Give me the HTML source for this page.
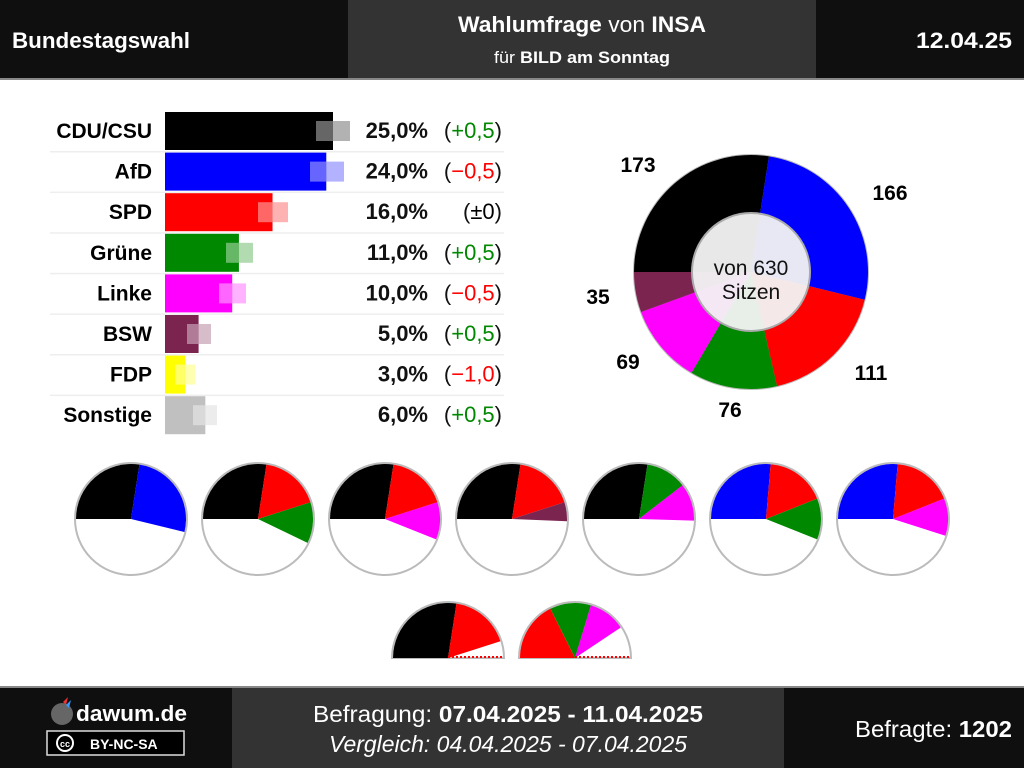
<!DOCTYPE html>
<html><head><meta charset="utf-8">
<style>
html,body{margin:0;padding:0;width:1024px;height:768px;overflow:hidden;background:#fff;font-family:"Liberation Sans",sans-serif}
svg{display:block}
</style></head>
<body>
<svg id="s" width="1024" height="768" viewBox="0 0 1024 768" xmlns="http://www.w3.org/2000/svg" font-family="Liberation Sans, sans-serif">
<rect x="0" y="0" width="1024" height="78" fill="#0f0f0f"/>
<rect x="348" y="0" width="468" height="78" fill="#333"/>
<rect x="0" y="78" width="1024" height="2" fill="#888"/>
<text x="12" y="48" fill="#fff" font-size="22" font-weight="bold" textLength="178" lengthAdjust="spacingAndGlyphs">Bundestagswahl</text>
<text x="1012" y="48" fill="#fff" font-size="22" font-weight="bold" text-anchor="end" textLength="96" lengthAdjust="spacingAndGlyphs">12.04.25</text>
<text x="582" y="32" fill="#fff" font-size="22" text-anchor="middle" textLength="248" lengthAdjust="spacingAndGlyphs"><tspan font-weight="bold">Wahlumfrage</tspan> von <tspan font-weight="bold">INSA</tspan></text>
<text x="582" y="63" fill="#fff" font-size="17" text-anchor="middle" textLength="176" lengthAdjust="spacingAndGlyphs">für <tspan font-weight="bold">BILD am Sonntag</tspan></text>
<rect x="0" y="686" width="1024" height="2" fill="#888"/>
<rect x="0" y="688" width="1024" height="80" fill="#0f0f0f"/>
<rect x="232" y="688" width="552" height="80" fill="#333"/>
<circle cx="62" cy="714" r="11" fill="#666"/>
<path d="M63 702 L68 697 L66 705 Z" fill="#e33"/>
<path d="M66 705 L71 700 L69 708 Z" fill="#39f"/>
<text x="76" y="721" fill="#fff" font-size="22" font-weight="bold" textLength="111" lengthAdjust="spacingAndGlyphs">dawum.de</text>
<rect x="47" y="731" width="137" height="24" fill="#000" stroke="#ddd" stroke-width="1.5"/>
<circle cx="65" cy="743" r="9" fill="#fff"/>
<circle cx="65" cy="743" r="7" fill="#000"/>
<text x="65" y="747" fill="#fff" font-size="9" font-weight="bold" text-anchor="middle">cc</text>
<text x="90" y="749" fill="#fff" font-size="14" font-weight="bold">BY-NC-SA</text>
<text x="508" y="722" fill="#fff" font-size="23" text-anchor="middle" textLength="390" lengthAdjust="spacingAndGlyphs">Befragung: <tspan font-weight="bold">07.04.2025 - 11.04.2025</tspan></text>
<text x="508" y="752" fill="#fff" font-size="23" font-style="italic" text-anchor="middle" textLength="358" lengthAdjust="spacingAndGlyphs">Vergleich: 04.04.2025 - 07.04.2025</text>
<text x="1012" y="737" fill="#fff" font-size="23" text-anchor="end" textLength="157" lengthAdjust="spacingAndGlyphs">Befragte: <tspan font-weight="bold">1202</tspan></text>
<g id="g"></g>
</svg>
<script>
var g=document.getElementById('g'),h='';
var parties=[["CDU/CSU",25,"#000","25,0%","(+0,5)","#080",316,350],
["AfD",24,"#00f","24,0%","(\u22120,5)","#f00",310,344],
["SPD",16,"#f00","16,0%","(\u00b10)","#000",258,288],
["Grüne",11,"#080","11,0%","(+0,5)","#080",226,253],
["Linke",10,"#f0f","10,0%","(\u22120,5)","#f00",219,246],
["BSW",5,"#7b2450","5,0%","(+0,5)","#080",187,211],
["FDP",3,"#ff0","3,0%","(\u22121,0)","#f00",175,195],
["Sonstige",6,"#c0c0c0","6,0%","(+0,5)","#080",193,217]];
parties.forEach(function(p,i){
 var yc=131+i*40.6, y0=yc-19;
 if(i<7) h+='<rect x="50" y="'+(yc+20)+'" width="454" height="1.5" fill="#eee"/>';
 var w=p[1]*6.72;
 h+='<rect x="165" y="'+y0+'" width="'+w+'" height="38" fill="'+p[2]+'"/>';
 var end=165+w;
 h+='<rect x="'+p[6]+'" y="'+(yc-10)+'" width="'+(end-p[6])+'" height="20" fill="#fff" opacity="0.4"/>';
 h+='<rect x="'+end+'" y="'+(yc-10)+'" width="'+(p[7]-end)+'" height="20" fill="'+p[2]+'" opacity="0.3"/>';
 h+='<text x="152" y="'+(yc+7)+'" font-size="21" font-weight="bold" text-anchor="end">'+p[0]+'</text>';
 h+='<text x="428" y="'+(yc+7)+'" font-size="22" font-weight="bold" text-anchor="end" fill="#111">'+p[3]+'</text>';
 var inner=p[4].slice(1,-1);
 h+='<text x="502" y="'+(yc+7)+'" font-size="22" text-anchor="end" fill="#111">(<tspan fill="'+p[5]+'">'+inner+'</tspan>)</text>';
});
function pt(cx,cy,r,a){a=a*Math.PI/180;return [cx+r*Math.sin(a),cy-r*Math.cos(a)];}
function sector(cx,cy,r,a0,a1,c){var p0=pt(cx,cy,r,a0),p1=pt(cx,cy,r,a1);var lg=(a1-a0)>180?1:0;
 return '<path d="M'+cx+' '+cy+' L'+p0[0].toFixed(2)+' '+p0[1].toFixed(2)+' A'+r+' '+r+' 0 '+lg+' 1 '+p1[0].toFixed(2)+' '+p1[1].toFixed(2)+' Z" fill="'+c+'"/>';}
var seats={C:[173,"#000"],A:[166,"#00f"],S:[111,"#f00"],G:[76,"#080"],L:[69,"#f0f"],B:[35,"#7b2450"]};
var cx=751,cy=272,R=117,a=270;
h+='<circle cx="'+cx+'" cy="'+cy+'" r="'+(R+1)+'" fill="#bbb"/>';
["C","A","S","G","L","B"].forEach(function(k){var s=seats[k][0]/630*360;h+=sector(cx,cy,R,a,a+s,seats[k][1]);a+=s;});
h+='<circle cx="'+cx+'" cy="'+cy+'" r="59" fill="#f4f4f4" fill-opacity="0.95" stroke="#aaa" stroke-width="2"/>';
h+='<text x="'+cx+'" y="'+(cy+3)+'" font-size="21" text-anchor="middle" fill="#111">von 630</text>';
h+='<text x="'+cx+'" y="'+(cy+27)+'" font-size="21" text-anchor="middle" fill="#111">Sitzen</text>';
[["173",638,172],["166",890,200],["111",871,380],["76",730,417],["69",628,369],["35",598,304]].forEach(function(l){
 h+='<text x="'+l[1]+'" y="'+l[2]+'" font-size="21" font-weight="bold" text-anchor="middle">'+l[0]+'</text>';});
var coal=["CA","CSG","CSL","CSB","CGL","ASG","ASL"];
coal.forEach(function(c,i){var x=131+i*127,y=519,r=56;
 h+='<circle cx="'+x+'" cy="'+y+'" r="'+r+'" fill="#fff" stroke="#bbb" stroke-width="2"/>';
 var a=270;c.split('').forEach(function(k){var s=seats[k][0]/630*360;h+=sector(x,y,r-1,a,a+s,seats[k][1]);a+=s;});
});
[["CS",448],["SGL",575]].forEach(function(c){var x=c[1],y=658,r=56;
 h+='<path d="M'+(x-r)+' '+y+' A'+r+' '+r+' 0 0 1 '+(x+r)+' '+y+' Z" fill="#fff" stroke="#bbb" stroke-width="2"/>';
 var a=270;c[0].split('').forEach(function(k){var s=seats[k][0]/630*360;h+=sector(x,y,r-1,a,a+s,seats[k][1]);a+=s;});
 h+='<line x1="'+x+'" y1="'+(y-1)+'" x2="'+(x+r)+'" y2="'+(y-1)+'" stroke="#f00" stroke-width="2" stroke-dasharray="2,2"/>';
});
g.innerHTML=h;
</script>
</body></html>
